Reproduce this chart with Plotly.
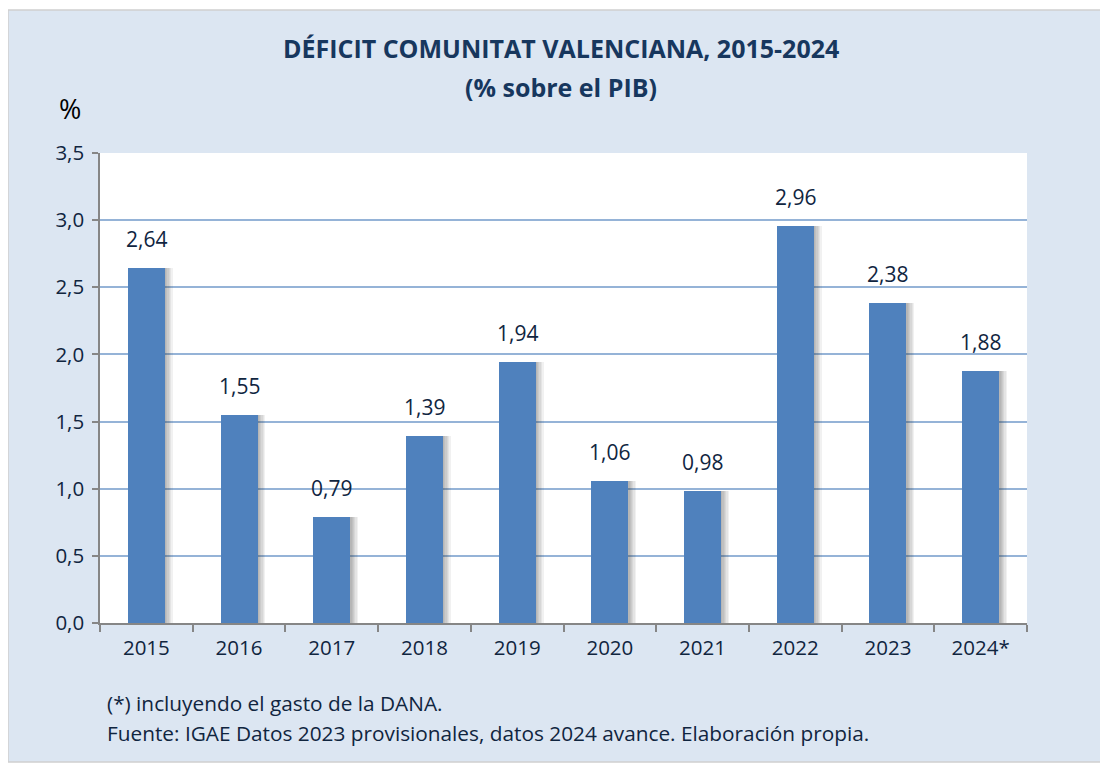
import plotly.graph_objects as go

# Déficit de la Comunitat Valenciana, % sobre el PIB
years = ['2015', '2016', '2017', '2018', '2019', '2020', '2021', '2022', '2023', '2024*']
deficit = [2.64, 1.55, 0.79, 1.39, 1.94, 1.06, 0.98, 2.96, 2.38, 1.88]
y_ticks = [0, 0.5, 1.0, 1.5, 2.0, 2.5, 3.0, 3.5]

title_lines = ['DÉFICIT COMUNITAT VALENCIANA, 2015-2024', '(% sobre el PIB)']
notes = ['(*) incluyendo el gasto de la DANA.',
         'Fuente: IGAE Datos 2023 provisionales, datos 2024 avance. Elaboración propia.']

FONT = 'Open Sans'
NAVY = '#10253F'
BAR = '#4F81BD'
BG = '#DCE6F2'

# the page body has an 8px margin, so the figure is 8px smaller than the window
W, H = 1100, 756
# plot area in page pixels: x 100..1027, y 153..623
L, R, T, B = 92, 81, 145, 141
PW, PH = W - L - R, H - T - B


def px(x):
    return (x - 100) / PW


def py(y):
    return (623 - y) / PH


def comma(v, n=2):
    return f'{v:.{n}f}'.replace('.', ',')


fig = go.Figure()

# sombra difuminada a la derecha de cada barra
for shift in [0.085, 0.07, 0.055, 0.04, 0.027, 0.015]:
    fig.add_trace(go.Bar(
        x=years, y=deficit, width=0.4, offset=-0.2 + shift,
        marker=dict(color='rgba(50,50,50,0.07)', line=dict(width=0)),
        hoverinfo='skip', showlegend=False,
    ))

fig.add_trace(go.Bar(
    x=years, y=deficit, width=0.4, offset=-0.2,
    marker=dict(color=BAR, line=dict(width=0)),
    showlegend=False,
))

annotations = []
for i, v in enumerate(deficit):
    annotations.append(dict(
        x=i, y=v, xref='x', yref='y', text=comma(v), showarrow=False,
        yanchor='bottom', yshift=13, font=dict(family=FONT, size=21, color=NAVY),
    ))

for line, ypos in zip(title_lines, [48, 87]):
    annotations.append(dict(x=px(561), y=py(ypos), xref='paper', yref='paper', text='<b>' + line + '</b>',
                            showarrow=False, xanchor='center', yanchor='middle',
                            font=dict(family=FONT, size=25, color='#17375E')))
annotations.append(dict(x=px(70), y=py(108), xref='paper', yref='paper', text='%',
                        showarrow=False, xanchor='center', yanchor='middle',
                        font=dict(family=FONT, size=27, color='black')))
for i, line in enumerate(notes):
    annotations.append(dict(x=px(105), y=py(703 + 30 * i), xref='paper', yref='paper', text=line,
                            showarrow=False, xanchor='left', yanchor='middle',
                            font=dict(family=FONT, size=20.8, color=NAVY)))

shapes = [
    dict(type='rect', xref='paper', yref='paper', layer='below',
         x0=px(8), x1=px(1104), y0=py(762), y1=py(10),
         fillcolor=BG, line=dict(color='#D0D0D0', width=1.5)),
    dict(type='rect', xref='paper', yref='paper', layer='below',
         x0=0, x1=1, y0=0, y1=1, fillcolor='white', line=dict(width=0)),
]

fig.update_layout(
    width=W, height=H,
    margin=dict(l=L, r=R, t=T, b=B),
    paper_bgcolor='white', plot_bgcolor='rgba(0,0,0,0)',
    barmode='overlay', bargap=0,
    font=dict(family=FONT, color=NAVY),
    annotations=annotations, shapes=shapes,
    hovermode=False,
)

fig.update_xaxes(
    type='category', range=[-0.5, len(years) - 0.5],
    showgrid=False, showline=True, linecolor='#868686', linewidth=1.5,
    ticks='outside', tickson='boundaries', ticklen=7, tickcolor='#868686', tickwidth=1.5,
    tickfont=dict(family=FONT, size=20.5, color=NAVY), ticklabelstandoff=6,
)
fig.update_yaxes(
    range=[0, 3.5], tickvals=y_ticks, ticktext=[comma(v, 1) for v in y_ticks],
    showgrid=True, gridcolor='#95B3D7', gridwidth=1.5, zeroline=False,
    showline=True, linecolor='#868686', linewidth=1.5,
    ticks='outside', ticklen=6, tickcolor='#868686', tickwidth=1.5,
    tickfont=dict(family=FONT, size=20.5, color=NAVY), ticklabelstandoff=4,
)

fig.write_html('out.html')
